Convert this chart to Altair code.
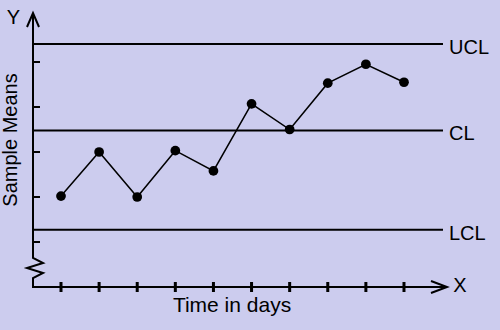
import altair as alt
import pandas as pd

# ---- data ----
days = list(range(1, 11))
sample_means = [2.02, 3.00, 2.00, 3.03, 2.58, 4.07, 3.50, 4.53, 4.95, 4.55]
limit_names = ["UCL", "CL", "LCL"]
limit_values = [5.40, 3.48, 1.27]
y_tick_values = [1, 2, 3, 4, 5]

# ---- geometry (pixel layout of the drawing) ----
W, H = 500, 330
X0_PX, DX_PX = 61, 38.11   # pixel of day 1, pixels per day
Y0_PX, DY_PX = 287, 45     # pixel of value 0, pixels per unit


def xd(p):
    return 1 + (p - X0_PX) / DX_PX


def yv(p):
    return (Y0_PX - p) / DY_PX


xs = alt.Scale(domain=[xd(0), xd(W)], nice=False, zero=False)
ys = alt.Scale(domain=[yv(H), yv(0)], nice=False, zero=False)
FONT = "Liberation Sans"
FS = 20

X = lambda f: alt.X(f, type="quantitative", scale=xs, axis=None)
Y = lambda f: alt.Y(f, type="quantitative", scale=ys, axis=None)

# axis polyline: y-axis with break zigzag, down to corner, along x-axis
axis_px = [(33, 13), (33, 258), (43, 263), (27, 268), (43, 273), (33, 278), (33, 287), (447, 287)]
axis_df = pd.DataFrame({
    "x": [xd(p[0]) for p in axis_px],
    "y": [yv(p[1]) for p in axis_px],
    "o": list(range(len(axis_px))),
})
arrow_px = [("y", 27, 27), ("y", 33, 13), ("y", 39, 27), ("x", 431, 281), ("x", 447, 287), ("x", 431, 293)]
arrow_df = pd.DataFrame({
    "g": [a[0] for a in arrow_px],
    "x": [xd(a[1]) for a in arrow_px],
    "y": [yv(a[2]) for a in arrow_px],
    "o": list(range(len(arrow_px))),
})

axis_line = alt.Chart(axis_df).mark_line(color="black", strokeWidth=2, strokeJoin="miter").encode(
    x=X("x"), y=Y("y"), order="o:Q")
arrows = alt.Chart(arrow_df).mark_line(color="black", strokeWidth=2).encode(
    x=X("x"), y=Y("y"), detail="g:N", order="o:Q")

ytick_df = pd.DataFrame({"v": y_tick_values})
yticks = alt.Chart(ytick_df).mark_rule(color="black", strokeWidth=2).encode(
    y=Y("v"), x=alt.value(33), x2=alt.value(40))

day_df = pd.DataFrame({"day": days, "mean": sample_means})
xticks = alt.Chart(day_df).mark_rule(color="black", strokeWidth=3).encode(
    x=X("day"), y=alt.value(282), y2=alt.value(292))

lim_df = pd.DataFrame({"name": limit_names, "v": limit_values})
limits = alt.Chart(lim_df).mark_rule(color="black", strokeWidth=2).encode(
    y=Y("v"), x=alt.value(33), x2=alt.value(443))
lim_text = alt.Chart(lim_df).mark_text(
    align="left", baseline="middle", dy=4, font=FONT, fontSize=FS, color="black").encode(
    y=Y("v"), x=alt.value(449), text="name:N")

line = alt.Chart(day_df).mark_line(color="black", strokeWidth=1.5).encode(
    x=X("day"), y=Y("mean"))
pts = alt.Chart(day_df).mark_circle(color="black", size=95, opacity=1).encode(
    x=X("day"), y=Y("mean"))

one = pd.DataFrame({"a": [0]})


def label(txt, px, py, fs=FS, **kw):
    return alt.Chart(one).mark_text(
        text=txt, font=FONT, fontSize=fs, color="black", baseline="middle", align="center", **kw
    ).encode(x=alt.value(px), y=alt.value(py))


t_y = label("Y", 13.5, 18)
t_x = label("X", 460, 286)
t_time = label("Time in days", 232, 306, fs=21)
t_means = label("Sample Means", 11, 140, angle=270)

chart = alt.layer(
    limits, axis_line, arrows, yticks, xticks, line, pts, lim_text, t_y, t_x, t_time, t_means
).properties(
    width=W, height=H, background="#CCCCEE", padding=0,
    autosize=alt.AutoSizeParams(type="none"),
).configure_view(strokeWidth=0)

chart.save("out.html", embed_options={"renderer": "svg", "actions": False})
